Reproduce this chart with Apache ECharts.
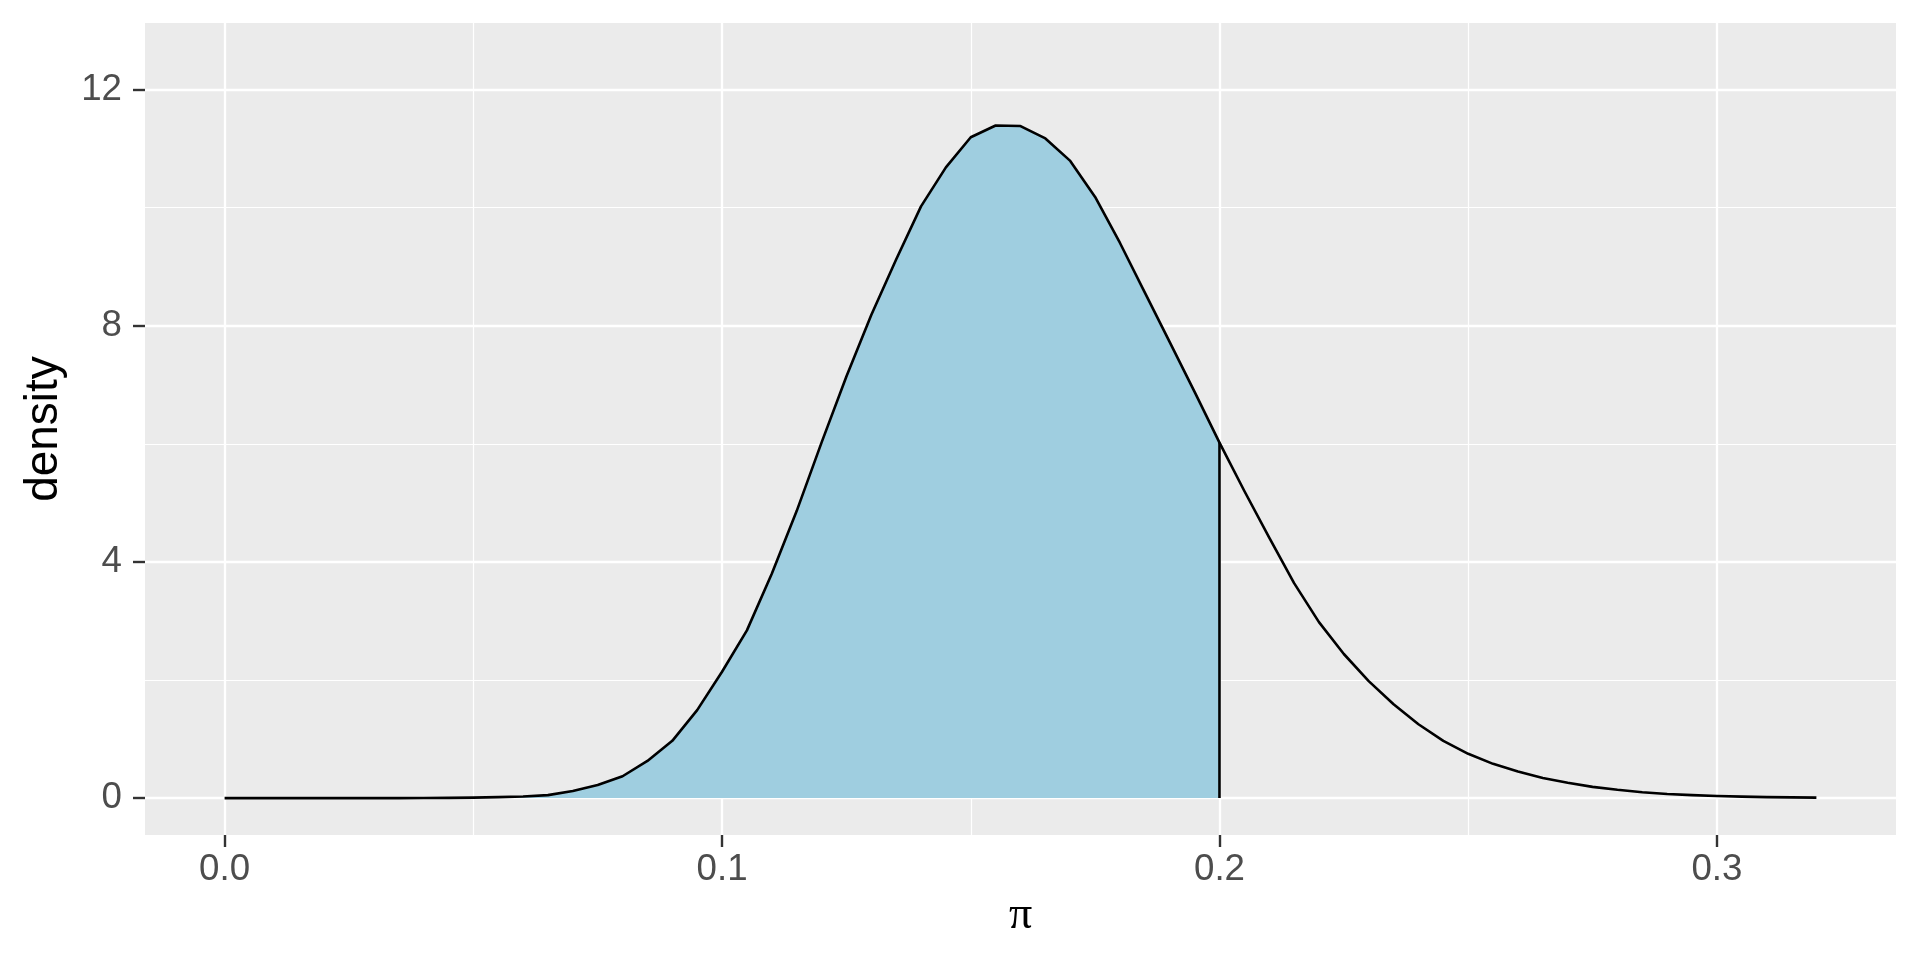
<!DOCTYPE html>
<html>
<head>
<meta charset="utf-8">
<script src="https://cdn.jsdelivr.net/npm/echarts@6/dist/echarts.min.js"></script>
<style>
html,body{margin:0;padding:0;background:#fff;}
#chart{width:1920px;height:960px;}
</style>
</head>
<body>
<div id="chart"></div>
<script>
// ---- data ----
const piValues = [0.000,0.005,0.010,0.015,0.020,0.025,0.030,0.035,0.040,0.045,0.050,0.055,0.060,0.065,0.070,0.075,0.080,0.085,0.090,0.095,0.100,0.105,0.110,0.115,0.120,0.125,0.130,0.135,0.140,0.145,0.150,0.155,0.160,0.165,0.170,0.175,0.180,0.185,0.190,0.195,0.200,0.205,0.210,0.215,0.220,0.225,0.230,0.235,0.240,0.245,0.250,0.255,0.260,0.265,0.270,0.275,0.280,0.285,0.290,0.295,0.300,0.305,0.310,0.315,0.320];
const densityValues = [0,0,0,0,0,0,0,0,0.001,0.003,0.008,0.016,0.028,0.05,0.12,0.22,0.37,0.63,0.97,1.49,2.14,2.84,3.80,4.86,6.02,7.14,8.18,9.12,10.02,10.68,11.19,11.39,11.38,11.17,10.79,10.18,9.40,8.56,7.72,6.88,6.02,5.20,4.41,3.64,2.98,2.44,1.98,1.59,1.25,0.97,0.75,0.58,0.45,0.34,0.26,0.19,0.14,0.10,0.07,0.05,0.035,0.025,0.017,0.012,0.008];
const shadeUpTo = 0.2;
const xMajorTicks = [0, 0.1, 0.2, 0.3];
const xMinorTicks = [0.05, 0.15, 0.25];
const yMajorTicks = [0, 4, 8, 12];
const yMinorTicks = [2, 6, 10];
const xTickLabels = ['0.0', '0.1', '0.2', '0.3'];
const yTickLabels = ['0', '4', '8', '12'];

const curve = piValues.map((p, i) => [p, densityValues[i]]);
const shaded = curve.filter(d => d[0] <= shadeUpTo + 1e-9);
const edgeIdx = piValues.findIndex(p => Math.abs(p - shadeUpTo) < 1e-9);
const edge = [[shadeUpTo, 0], [shadeUpTo, densityValues[edgeIdx]]];

const gridLines = [].concat(
  xMinorTicks.map(v => ({xAxis: v, lineStyle: {width: 1.2}})),
  yMinorTicks.map(v => ({yAxis: v, lineStyle: {width: 1.2}})),
  xMajorTicks.map(v => ({xAxis: v, lineStyle: {width: 2.3}})),
  yMajorTicks.map(v => ({yAxis: v, lineStyle: {width: 2.3}}))
);

const chart = echarts.init(document.getElementById('chart'), null, {renderer: 'canvas'});
const labelFont = 'Liberation Sans, Arial, Helvetica, sans-serif';
chart.setOption({
  animation: false,
  backgroundColor: '#ffffff',
  grid: {left: 145, right: 24, top: 23, bottom: 125, show: true, backgroundColor: '#EBEBEB', borderWidth: 0},
  xAxis: {
    type: 'value', min: -0.016, max: 0.336,
    name: 'π', nameLocation: 'middle', nameGap: 52,
    nameTextStyle: {fontFamily: 'Liberation Serif, DejaVu Serif, serif', fontSize: 46, color: '#000'},
    axisLine: {show: false, onZero: false},
    axisTick: {show: true, length: 12, customValues: xMajorTicks, lineStyle: {color: '#333333', width: 2.4}},
    axisLabel: {show: true, margin: 16, customValues: xMajorTicks, fontFamily: labelFont, fontSize: 36.7, color: '#4D4D4D',
      formatter: v => { const i = xMajorTicks.findIndex(t => Math.abs(t - v) < 1e-9); return i >= 0 ? xTickLabels[i] : ''; }},
    splitLine: {show: false}
  },
  yAxis: {
    type: 'value', min: -0.625, max: 13.125,
    name: 'density', nameLocation: 'middle', nameGap: 78, nameRotate: 90,
    nameTextStyle: {fontFamily: labelFont, fontSize: 46, color: '#000'},
    axisLine: {show: false, onZero: false},
    axisTick: {show: true, length: 12, customValues: yMajorTicks, lineStyle: {color: '#333333', width: 2.4}},
    axisLabel: {show: true, margin: 23, customValues: yMajorTicks, fontFamily: labelFont, fontSize: 36.7, color: '#4D4D4D',
      formatter: v => { const i = yMajorTicks.findIndex(t => Math.abs(t - v) < 1e-9); return i >= 0 ? yTickLabels[i] : ''; }},
    splitLine: {show: false}
  },
  series: [
    {
      type: 'line', data: [], z: 1, silent: true,
      markLine: {silent: true, z: 1, zlevel: 0, symbol: ['none', 'none'], label: {show: false}, animation: false,
        lineStyle: {color: '#ffffff', type: 'solid'}, emphasis: {disabled: true}, data: gridLines}
    },
    {
      type: 'line', data: shaded, z: 10, symbol: 'none', silent: true,
      lineStyle: {width: 0, opacity: 0},
      areaStyle: {color: '#9FCEE0', opacity: 1}
    },
    {
      type: 'line', data: curve, z: 12, symbol: 'none', silent: true,
      lineStyle: {color: '#000000', width: 2.6, join: 'round'}
    },
    {
      type: 'line', data: edge, z: 12, symbol: 'none', silent: true,
      lineStyle: {color: '#000000', width: 2.6}
    }
  ]
});
</script>
</body>
</html>
